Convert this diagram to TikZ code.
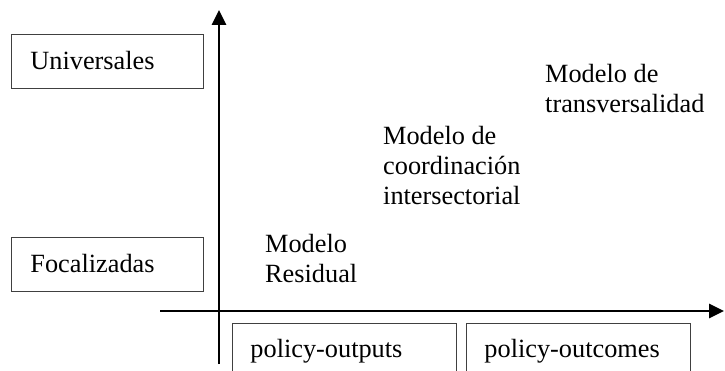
\documentclass[tikz,border=0pt]{standalone}
\usepackage{fontspec}
\setmainfont{Liberation Serif}
\usetikzlibrary{arrows.meta}

\begin{document}
\begin{tikzpicture}[x=1pt, y=1pt, font=\fontsize{26.3}{30}\selectfont,
    box/.style={draw=black!75, line width=0.9pt, inner xsep=19pt, minimum height=54pt, align=left},
    axis/.style={line width=2.8pt, -{Triangle[length=15pt, width=14pt]}},
    model/.style={align=left, inner sep=0pt, anchor=base west}]
    \clip (0,0) rectangle (725,370);
    % axes
    \coordinate (xstart) at (160,59);
    \coordinate (xend) at (724,59);
    \coordinate (ystart) at (219,6);
    \coordinate (yend) at (219,360);
    \draw[axis] (xstart) -- (xend);
    \draw[axis] (ystart) -- (yend);
    % scope of the policy (left)
    \node[box, text width=154pt, anchor=west] (univ) at (11,309) {Universales};
    \node[box, text width=154pt, anchor=west] (foc) at (11,106) {Focalizadas};
    % results (bottom), cut by the page
    \node[box, text width=188pt, inner xsep=18pt, minimum height=56pt, anchor=north west] (outputs) at (232,47) {policy-outputs};
    \node[box, text width=188pt, inner xsep=18pt, minimum height=56pt, anchor=north west] (outcomes) at (466,47) {policy-outcomes};
    % models (base = last line)
    \node[model] (residual) at (265,88) {Modelo\\Residual};
    \node[model] (coord) at (383,166) {Modelo de\\coordinación\\intersectorial};
    \node[model] (transv) at (545,257) {Modelo de\\transversalidad};
\end{tikzpicture}
\end{document}
